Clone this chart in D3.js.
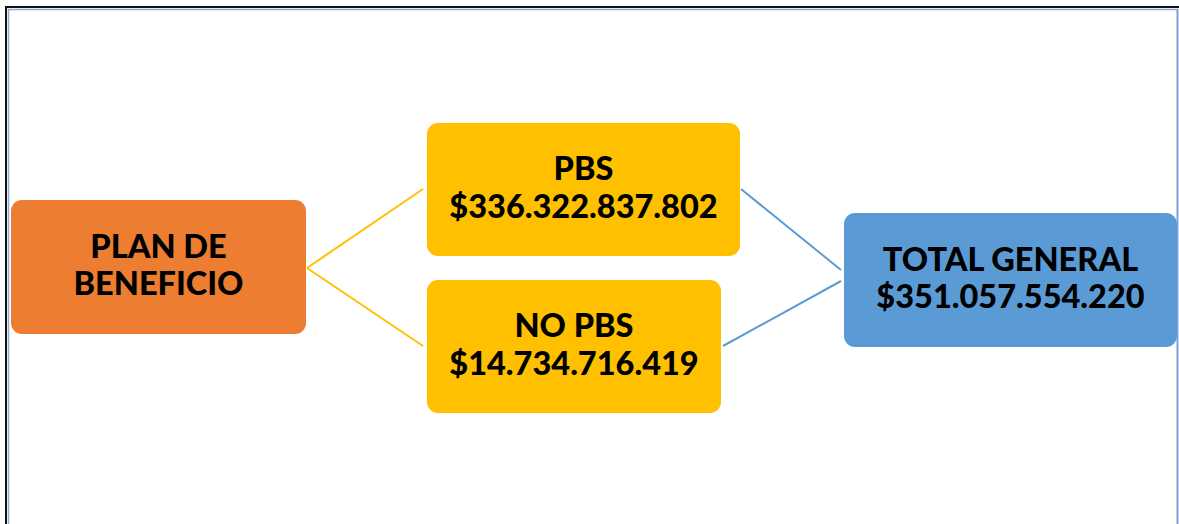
<!DOCTYPE html>
<html>
<head>
<meta charset="utf-8">
<script src="https://cdn.jsdelivr.net/npm/d3@7"></script>
<style>
  html, body { margin: 0; padding: 0; background: #ffffff; }
  svg { display: block; }
</style>
</head>
<body>
<div id="chart"></div>
<script>
// ---- data ----
const nodeIds    = ["plan", "pbs", "nopbs", "total"];
const nodeTitles = ["PLAN DE", "PBS", "NO PBS", "TOTAL GENERAL"];
const nodeSecond = ["BENEFICIO", "$336.322.837.802", "$14.734.716.419", "$351.057.554.220"];
const linkSources = ["plan", "plan", "pbs", "nopbs"];
const linkTargets = ["pbs", "nopbs", "total", "total"];

// ---- layout (positions / styles) ----
const W = 1179, H = 524;
const layout = {
  plan:  {x0: 11,  x1: 306,  y0: 200, y1: 334, fill: "#ED7D31"},
  pbs:   {x0: 427, x1: 740,  y0: 123, y1: 256, fill: "#FFC000"},
  nopbs: {x0: 427, x1: 721,  y0: 280, y1: 413, fill: "#FFC000"},
  total: {x0: 844, x1: 1177, y0: 213, y1: 347, fill: "#5B9BD5"}
};
// link endpoints (in and out anchors)
const outAnchor = {
  plan:  [307, 268],
  pbs:   [741, 189],
  nopbs: [723, 346]
};
const inAnchor = {
  pbs:   [423, 189],
  nopbs: [423, 346],
  totalFromPbs: [841, 270],
  totalFromNopbs: [841, 281]
};
const linkColor = {plan: "#FFC000", pbs: "#5B9BD5", nopbs: "#5B9BD5"};

const svg = d3.select("#chart").append("svg")
  .attr("width", W).attr("height", H);

// frame
svg.append("line").attr("x1", 5).attr("x2", W).attr("y1", 7).attr("y2", 7)
  .attr("stroke", "#111").attr("stroke-width", 2);
svg.append("line").attr("x1", 6).attr("x2", 6).attr("y1", 6).attr("y2", H)
  .attr("stroke", "#111").attr("stroke-width", 2);
svg.append("line").attr("x1", 8).attr("x2", 1178).attr("y1", 9.5).attr("y2", 9.5)
  .attr("stroke", "#8EAADC").attr("stroke-width", 1.5);
svg.append("line").attr("x1", 8.5).attr("x2", 8.5).attr("y1", 9).attr("y2", H)
  .attr("stroke", "#8EAADC").attr("stroke-width", 1.5);
svg.append("line").attr("x1", 1177.5).attr("x2", 1177.5).attr("y1", 9).attr("y2", H)
  .attr("stroke", "#7F9FD8").attr("stroke-width", 2);

// links
const links = linkSources.map((s, i) => ({source: s, target: linkTargets[i]}));
const linkGen = d3.line();
svg.append("g").selectAll("path").data(links).join("path")
  .attr("d", d => {
    const a = outAnchor[d.source];
    let b;
    if (d.target === "total") b = d.source === "pbs" ? inAnchor.totalFromPbs : inAnchor.totalFromNopbs;
    else b = inAnchor[d.target];
    return linkGen([a, b]);
  })
  .attr("fill", "none")
  .attr("stroke", d => linkColor[d.source])
  .attr("stroke-width", 2);

// nodes
const nodes = nodeIds.map((id, i) => ({id, t1: nodeTitles[i], t2: nodeSecond[i]}));
const g = svg.append("g").selectAll("g").data(nodes).join("g");
g.append("rect")
  .attr("x", d => layout[d.id].x0)
  .attr("y", d => layout[d.id].y0)
  .attr("width", d => layout[d.id].x1 - layout[d.id].x0)
  .attr("height", d => layout[d.id].y1 - layout[d.id].y0)
  .attr("rx", 11).attr("ry", 11)
  .attr("fill", d => layout[d.id].fill);

const lineGap = 37.5;
g.append("text")
  .attr("x", d => (layout[d.id].x0 + layout[d.id].x1) / 2)
  .attr("y", d => (layout[d.id].y0 + layout[d.id].y1) / 2 - 9.5)
  .attr("text-anchor", "middle")
  .attr("font-family", "Lato, 'Open Sans', sans-serif")
  .attr("font-weight", 900)
  .attr("font-size", 32.5)
  .attr("fill", "#000")
  .call(t => {
    t.append("tspan").attr("x", d => (layout[d.id].x0 + layout[d.id].x1) / 2).text(d => d.t1);
    t.append("tspan").attr("x", d => (layout[d.id].x0 + layout[d.id].x1) / 2).attr("dy", lineGap).text(d => d.t2);
  });
</script>
</body>
</html>
